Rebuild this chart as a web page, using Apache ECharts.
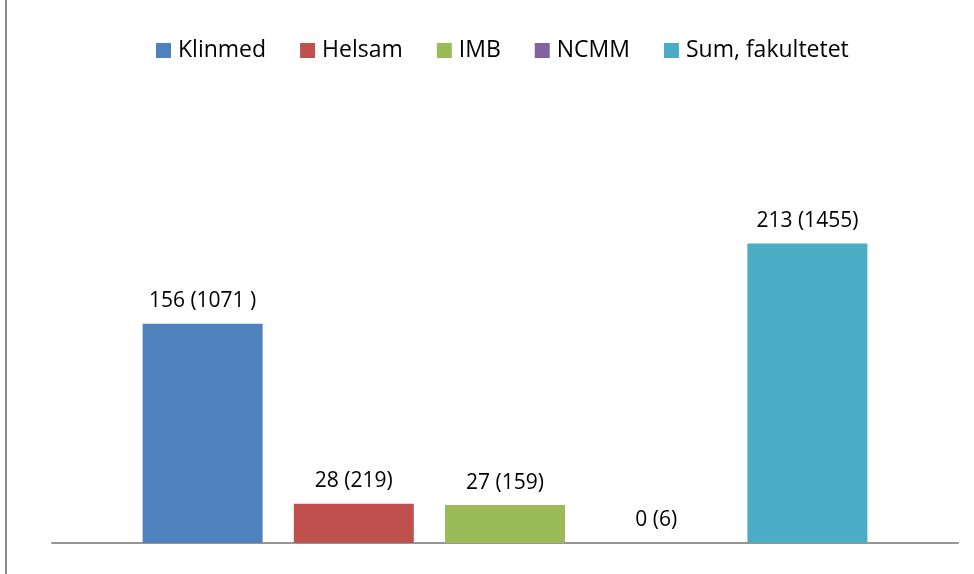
<!DOCTYPE html>
<html>
<head>
<meta charset="utf-8">
<script src="https://cdn.jsdelivr.net/npm/echarts@6/dist/echarts.min.js"></script>
<style>
  html, body { margin: 0; padding: 0; background: #fff; }
  #chart { width: 974px; height: 574px; }
</style>
</head>
<body>
<div id="chart"></div>
<script>
  // data
  var categories = ['']
  var seriesNames = ['Klinmed', 'Helsam', 'IMB', 'NCMM', 'Sum, fakultetet']
  var seriesValues = [156, 28, 27, 0, 213]
  var seriesLabels = ['156 (1071 )', '28 (219)', '27 (159)', '0 (6)', '213 (1455)']
  var seriesColors = ['#4F81BD', '#C0504D', '#9BBB59', '#8064A2', '#4BACC6']

  var chart = echarts.init(document.getElementById('chart'))

  var series = seriesNames.map(function (name, i) {
    return {
      name: name,
      type: 'bar',
      barGap: '26%',
      barCategoryGap: '20%',
      itemStyle: { color: seriesColors[i] },
      label: {
        show: true,
        position: 'top',
        distance: 12,
        color: '#000',
        fontSize: 21,
        fontFamily: 'Open Sans',
        formatter: function () { return seriesLabels[i] }
      },
      data: [seriesValues[i]]
    }
  })

  chart.setOption({
    animation: false,
    textStyle: { fontFamily: 'Open Sans' },
    legend: {
      top: 34,
      left: 151,
      itemWidth: 15,
      itemHeight: 15,
      itemGap: 34,
      icon: 'rect',
      textStyle: { fontSize: 23, color: '#000', fontFamily: 'Open Sans', padding: [0, 0, 0, 2] },
      data: seriesNames
    },
    grid: { left: 52, right: 16, top: 51, bottom: 31 },
    xAxis: {
      type: 'category',
      data: categories,
      axisLine: { lineStyle: { color: '#969696', width: 2 } },
      axisTick: { show: false },
      axisLabel: { show: false }
    },
    yAxis: {
      type: 'value',
      min: 0,
      max: 350,
      show: false,
      splitLine: { show: false }
    },
    graphic: [{
      type: 'line',
      shape: { x1: 6, y1: 0, x2: 6, y2: 574 },
      style: { stroke: '#8c8c8c', lineWidth: 2 }
    }],
    series: series
  })
</script>
</body>
</html>
